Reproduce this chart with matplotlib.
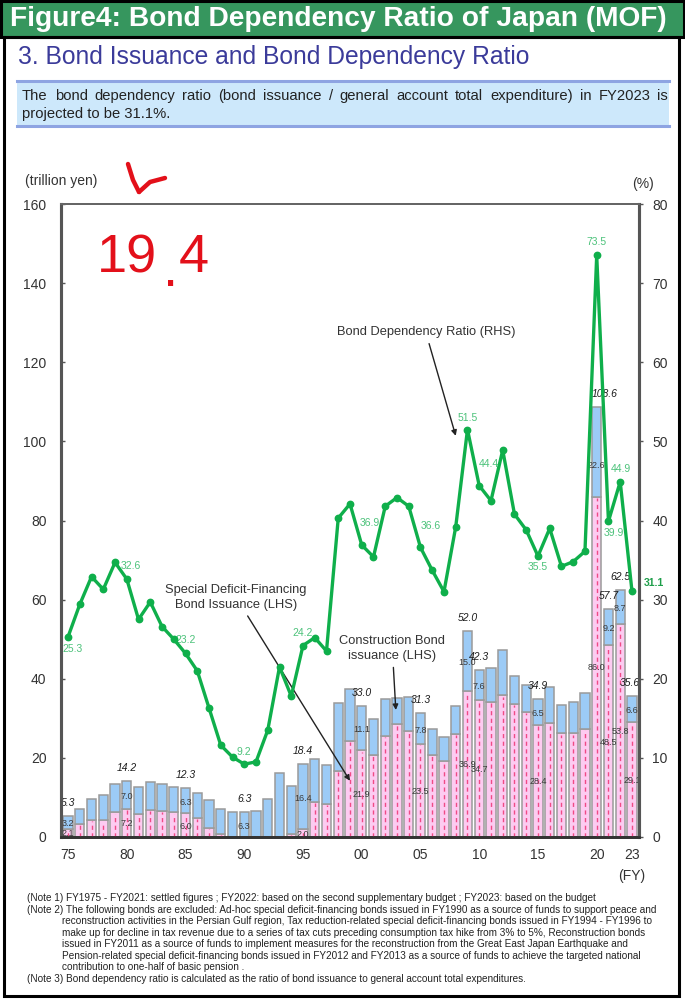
import matplotlib
matplotlib.use("Agg")
import matplotlib.pyplot as plt
from matplotlib.patches import Rectangle
from matplotlib.lines import Line2D
import numpy as np

plt.rcParams['font.family'] = ['Liberation Sans', 'DejaVu Sans']

# ---------------------------------------------------------------- data
years = list(range(1975, 2024))

# construction bonds (trillion yen)
construction = [3.2, 3.8, 5.2, 6.3, 7.1, 7.0, 7.0, 7.0, 6.8, 6.4,
                6.3, 6.2, 7.0, 6.3, 6.3, 6.3, 6.6, 9.5, 16.1, 12.3,
                16.4, 10.9, 10.0, 17.2, 13.1, 11.1, 9.2, 9.3, 6.6, 8.8,
                7.8, 6.6, 6.0, 7.0, 15.04, 7.6, 8.5, 11.5, 7.0, 6.7,
                6.5, 9.1, 7.1, 8.0, 9.2, 22.6, 9.2, 8.7, 6.56]

# special deficit-financing bonds (trillion yen)
special = [2.1, 3.3, 4.3, 4.2, 6.2, 7.2, 5.7, 6.9, 6.5, 6.2,
           6.0, 4.9, 2.4, 0.8, 0.1, 0.0, 0.0, 0.0, 0.0, 0.7,
           2.0, 8.9, 8.3, 16.7, 24.2, 21.9, 20.7, 25.5, 28.6, 26.7,
           23.5, 20.7, 19.2, 26.1, 36.94, 34.7, 34.1, 35.8, 33.7, 31.6,
           28.4, 28.9, 26.2, 26.2, 27.3, 86.0, 48.5, 53.8, 29.06]

# bond dependency ratio (%)
ratio = [25.3, 29.4, 32.9, 31.3, 34.7, 32.6, 27.5, 29.7, 26.6, 25.0,
         23.2, 21.0, 16.3, 11.6, 10.1, 9.2, 9.5, 13.5, 21.5, 17.8,
         24.2, 25.2, 23.5, 40.3, 42.1, 36.9, 35.4, 41.8, 42.9, 41.8,
         36.6, 33.7, 31.0, 39.2, 51.5, 44.4, 42.5, 48.9, 40.8, 38.8,
         35.5, 39.0, 34.2, 34.8, 36.1, 73.5, 39.9, 44.9, 31.1]

bar_label_years = [1975, 1980, 1985, 1990, 1995, 2000, 2005, 2009, 2010,
                   2015, 2020, 2021, 2022, 2023]
ratio_label_years = [1975, 1980, 1985, 1990, 1995, 2000, 2005, 2009, 2010,
                     2015, 2020, 2021, 2022, 2023]

xtick_years = [1975, 1980, 1985, 1990, 1995, 2000, 2005, 2010, 2015, 2020, 2023]
xtick_labels = ['75', '80', '85', '90', '95', '00', '05', '10', '15', '20', '23']

# ---------------------------------------------------------------- style
W, H = 685, 999
GREEN_BANNER = '#36965E'
TITLE_BLUE = '#3B3B9A'
BOX_FILL = '#CDE8FB'
BOX_EDGE = '#8EA4E2'
PINK = '#FDCBF1'
BLUE = '#9CCBF6'
EDGE = '#9A9A9A'
DASH = '#F04A86'
LINE_GREEN = '#0FAF4B'
LABEL_GREEN = '#4CC27A'
TXT = '#333333'
RED = '#E3101A'


def fx(x):
    return x / W


def fy(y):
    return 1 - y / H


fig = plt.figure(figsize=(W / 100, H / 100), dpi=100)
fig.patch.set_facecolor('white')
renderer = fig.canvas.get_renderer()


def fit_width(t, target):
    """Scale a text's font size so it spans `target` pixels."""
    w = t.get_window_extent(renderer).width
    t.set_fontsize(t.get_fontsize() * target / w)
    return t.get_fontsize()


# ---------------------------------------------------------------- header
fig.add_artist(Rectangle((fx(1), fy(37)), fx(683), 36 / H, transform=fig.transFigure,
                         facecolor=GREEN_BANNER, edgecolor='black', linewidth=2.2))
banner = fig.text(fx(10), fy(19), 'Figure4: Bond Dependency Ratio of Japan (MOF)',
                  fontweight='bold', fontsize=18, color='white', ha='left', va='center')
fit_width(banner, 656)
# outer frame
fig.add_artist(Rectangle((fx(4), fy(996)), fx(675), (996 - 37) / H, transform=fig.transFigure,
                         facecolor='none', edgecolor='black', linewidth=2.2))

title = fig.text(fx(18), fy(57), '3. Bond Issuance and Bond Dependency Ratio',
                 fontsize=17.8, color=TITLE_BLUE, ha='left', va='center')
fit_width(title, 513)

# summary box
fig.add_artist(Rectangle((fx(17), fy(126)), fx(652), 45 / H, transform=fig.transFigure,
                         facecolor=BOX_FILL, edgecolor='none'))
for yy in (81, 126):
    fig.add_artist(Line2D([fx(17), fx(669)], [fy(yy), fy(yy)], transform=fig.transFigure,
                          color=BOX_EDGE, linewidth=2.2))


def justified(words_line, x0, x1, y, **kw):
    words = words_line.split()
    arts = [fig.text(0, fy(y), w, ha='left', va='center', **kw) for w in words]
    widths = [a.get_window_extent(renderer).width for a in arts]
    gap = (x1 - x0 - sum(widths)) / (len(words) - 1)
    x = x0
    for a, w in zip(arts, widths):
        a.set_x(fx(x))
        x += w + gap


justified('The bond dependency ratio (bond issuance / general account total '
          'expenditure) in FY2023 is', 22, 668, 96, fontsize=10.6, color='#222222')
fig.text(fx(22), fy(114), 'projected to be 31.1%.', fontsize=10.6, color='#222222',
         ha='left', va='center')

# ---------------------------------------------------------------- chart
ax = fig.add_axes([fx(61), fy(837), (639 - 61) / W, (837 - 204) / H])
ax2 = ax.twinx()

x = np.array(years)
sp = np.array(special)
cn = np.array(construction)

ax.bar(x, sp, width=0.8, color=PINK, edgecolor=EDGE, linewidth=1.1, zorder=2)
ax.bar(x, cn, bottom=sp, width=0.8, color=BLUE, edgecolor=EDGE, linewidth=1.1, zorder=2)
has_sp = sp > 0.3
ax.vlines(x[has_sp], 0, sp[has_sp] - 0.3, colors=DASH, linestyles=(0, (3, 2.5)),
          linewidth=1.0, zorder=3)

ax.set_xlim(1974.4, 2023.6)
ax.set_ylim(0, 160)
ax.set_yticks(range(0, 161, 20))
ax.set_xticks(xtick_years)
ax.set_xticklabels(xtick_labels)
ax2.set_ylim(0, 80)
ax2.set_yticks(range(0, 81, 10))

for a in (ax, ax2):
    a.patch.set_visible(False)
    a.spines['left'].set_color('#555555')
    a.spines['left'].set_linewidth(2.2)
    a.spines['right'].set_color('#555555')
    a.spines['right'].set_linewidth(2.2)
    a.spines['top'].set_color('#666666')
    a.spines['top'].set_linewidth(1.4)
    a.spines['bottom'].set_color('#333333')
    a.spines['bottom'].set_linewidth(2.0)

ax.tick_params(axis='y', direction='in', length=3, width=1, color='#555555',
               labelsize=10, labelcolor=TXT, pad=10.5)
ax.tick_params(axis='x', length=0, labelsize=10, labelcolor=TXT, pad=8)
ax2.tick_params(axis='y', direction='out', length=3, width=1, color='#555555',
                labelsize=10, labelcolor=TXT, pad=6.5)

# ratio line on the right-hand scale
ax2.plot(x, ratio, color=LINE_GREEN, linewidth=2.4, marker='o', markersize=4.6,
         zorder=5)
ax2.set_zorder(ax.get_zorder() + 1)

# ratio value labels (pixel nudges from each point)
ratio_nudge = {1975: (5, -12), 1980: (4, 13), 1985: (0, 13), 1990: (0, 12),
               1995: (0, 13), 2000: (8, 22), 2005: (10, 21), 2009: (0, 12),
               2010: (10, 22), 2015: (0, -11), 2020: (0, 13), 2021: (5, -12),
               2022: (1, 13)}
for yr in ratio_label_years:
    i = years.index(yr)
    if yr == 2023:
        ax2.annotate(f'{ratio[i]:.1f}', (yr, ratio[i]), xytext=(22, 8),
                     textcoords='offset pixels', ha='center', va='center',
                     fontsize=7.5, color='#1E9E4A', fontweight='bold',
                     annotation_clip=False)
        continue
    dx, dy = ratio_nudge[yr]
    ax2.annotate(f'{ratio[i]:.1f}', (yr, ratio[i]), xytext=(dx, dy),
                 textcoords='offset pixels', ha='center', va='center',
                 fontsize=7.5, color=LABEL_GREEN)

# bar value labels
total_nudge = {2020: (8, 0), 2023: (-2, 0)}
constr_nudge = {2020: (0, -12)}
for yr in bar_label_years:
    i = years.index(yr)
    c, s = construction[i], special[i]
    tot = c + s
    dx, dy = total_nudge.get(yr, (0, 0))
    ax.annotate(f'{tot:.1f}', (yr, tot), xytext=(dx, 13 + dy), textcoords='offset pixels',
                ha='center', va='center', fontsize=7.5, style='italic', color='#1c1c1c',
                zorder=6)
    if s > 0:
        dx, dy = constr_nudge.get(yr, (0, 0))
        ax.annotate(f'{c:.1f}', (yr, s + c / 2), xytext=(dx, -1.5 + dy),
                    textcoords='offset pixels', ha='center', va='center',
                    fontsize=6.5, color='#3a3a3a', zorder=6)
        ax.annotate(f'{s:.1f}', (yr, s / 2), xytext=(0, -1), textcoords='offset pixels',
                    ha='center', va='center', fontsize=6.5, color='#3a3a3a', zorder=6)
    else:
        ax.annotate(f'{c:.1f}', (yr, c / 2), xytext=(0, -1.5), textcoords='offset pixels',
                    ha='center', va='center', fontsize=6.5, color='#3a3a3a', zorder=6)

# series callouts
arrow = dict(arrowstyle='-|>', color='#222222', lw=1.0, mutation_scale=8,
             shrinkA=2, shrinkB=0)
ax2.annotate('Bond Dependency Ratio (RHS)', xy=(2008.0, 50.7), xytext=(2005.45, 63.8),
             ha='center', va='center', fontsize=9.3, color=TXT, arrowprops=arrow)
ax.annotate('Special Deficit-Financing\nBond Issuance (LHS)', xy=(1999.0, 14.2),
            xytext=(1989.3, 60.6), ha='center', va='center', fontsize=9.3,
            color=TXT, linespacing=1.35, arrowprops=arrow, zorder=7)
ax.annotate('Construction Bond\nissuance (LHS)', xy=(2002.9, 32.1),
            xytext=(2002.6, 47.7), ha='center', va='center', fontsize=9.3,
            color=TXT, linespacing=1.35, arrowprops=arrow, zorder=7)

# axis captions
fig.text(fx(25), fy(181), '(trillion yen)', fontsize=10, color=TXT, ha='left', va='center')
fig.text(fx(643), fy(184), '(%)', fontsize=10, color=TXT, ha='center', va='center')
fig.text(fx(632), fy(876), '(FY)', fontsize=10, color=TXT, ha='center', va='center')

# ---------------------------------------------------------------- hand marks
fig.add_artist(Line2D([fx(128), fx(133), fx(139)], [fy(164), fy(180), fy(192)],
                      transform=fig.transFigure, color=RED, linewidth=3.2,
                      solid_capstyle='round', solid_joinstyle='round'))
fig.add_artist(Line2D([fx(139), fx(150), fx(165)], [fy(192), fy(182), fy(178)],
                      transform=fig.transFigure, color=RED, linewidth=3.2,
                      solid_capstyle='round', solid_joinstyle='round'))
hand = dict(fontsize=39, color=RED, va='baseline')
fig.text(fx(97), fy(272), '19', ha='left', **hand)
fig.text(fx(171), fy(286), '.', ha='center', **hand)
fig.text(fx(194), fy(272), '4', ha='center', **hand)

# ---------------------------------------------------------------- notes
notes = [
    (27, '(Note 1) FY1975 - FY2021: settled figures ; FY2022: based on the second '
         'supplementary budget ; FY2023: based on the budget'),
    (27, '(Note 2) The following bonds are excluded: Ad-hoc special deficit-financing '
         'bonds issued in FY1990 as a source of funds to support peace and'),
    (62, 'reconstruction activities in the Persian Gulf region, Tax reduction-related '
         'special deficit-financing bonds issued in FY1994 - FY1996 to'),
    (62, 'make up for decline in tax revenue due to a series of tax cuts preceding '
         'consumption tax hike from 3% to 5%, Reconstruction bonds'),
    (62, 'issued in FY2011 as a source of funds to implement measures for the '
         'reconstruction from the Great East Japan Earthquake and'),
    (62, 'Pension-related special deficit-financing bonds issued in FY2012 and FY2013 '
         'as a source of funds to achieve the targeted national'),
    (62, 'contribution to one-half of basic pension .'),
    (27, '(Note 3) Bond dependency ratio is calculated as the ratio of bond issuance '
         'to general account total expenditures.'),
]
note_arts = []
for k, (x0, line) in enumerate(notes):
    note_arts.append(fig.text(fx(x0), fy(898 + k * 11.55), line, fontsize=7,
                              color='#222222', ha='left', va='center'))
note_size = fit_width(note_arts[1], 630)
for t in note_arts:
    t.set_fontsize(note_size)

fig.savefig('out.png', dpi=100, facecolor='white')
